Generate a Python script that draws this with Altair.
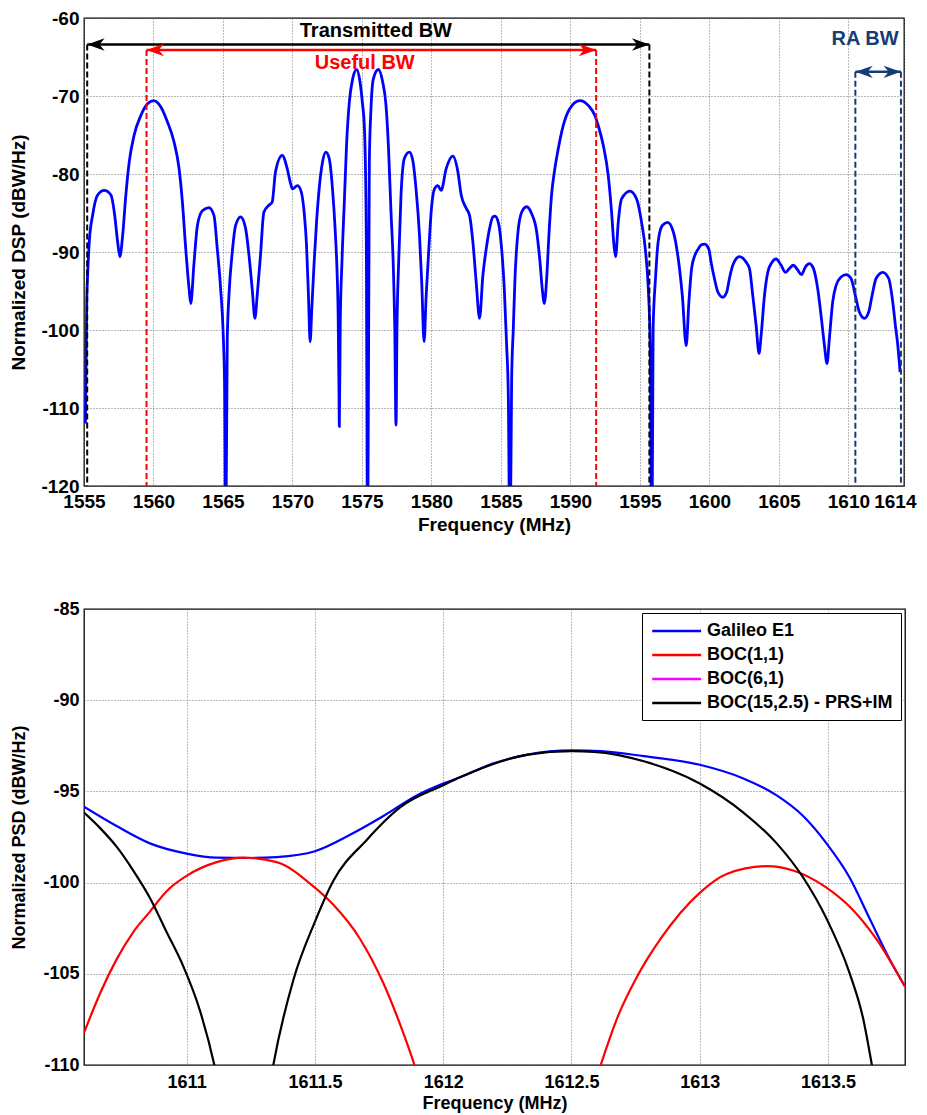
import altair as alt
import pandas as pd

FONT = "Liberation Sans"

# ---------------- top panel: Galileo E1 spectrum ----------------
top_freq = [
    1555.10, 1555.20, 1555.26, 1555.38, 1555.62, 1555.98, 1556.46, 1556.94, 1557.18, 1557.42,
    1557.58, 1557.78, 1558.01, 1558.25, 1558.61, 1559.09, 1559.57, 1560.00, 1560.53, 1561.00,
    1561.48, 1561.84, 1562.08, 1562.32, 1562.56, 1562.68, 1562.92, 1563.16, 1563.52, 1563.99,
    1564.35, 1564.59, 1564.83, 1565.02, 1565.12, 1565.19, 1565.31, 1565.43, 1565.67, 1565.91,
    1566.27, 1566.63, 1566.87, 1567.10, 1567.30, 1567.46, 1567.70, 1567.94, 1568.30, 1568.54,
    1568.78, 1569.26, 1569.62, 1569.86,
    1570.00, 1570.36, 1570.60, 1570.84, 1571.01, 1571.15, 1571.27, 1571.39, 1571.56, 1571.73,
    1571.92, 1572.16, 1572.40, 1572.64, 1572.88, 1573.08, 1573.20, 1573.29, 1573.35, 1573.37,
    1573.44, 1573.56, 1573.73, 1573.89, 1574.09, 1574.33, 1574.62, 1574.86, 1575.05, 1575.17,
    1575.24, 1575.31, 1575.41, 1575.53, 1575.65, 1575.82, 1576.18, 1576.49, 1576.73, 1576.90,
    1577.09, 1577.26, 1577.36, 1577.45, 1577.52, 1577.64, 1577.81, 1578.05, 1578.41, 1578.65,
    1578.89, 1579.14, 1579.30, 1579.47, 1579.62, 1579.81, 1580.00, 1580.22, 1580.46, 1580.70,
    1581.06, 1581.54, 1581.90, 1582.14, 1582.50, 1582.74, 1582.98, 1583.22, 1583.46, 1583.70,
    1583.94, 1584.18, 1584.42,
    1584.57, 1584.81, 1585.05, 1585.24, 1585.41, 1585.53, 1585.65, 1585.77, 1585.89, 1586.01,
    1586.20, 1586.49, 1586.85, 1587.21, 1587.57, 1587.81, 1587.97, 1588.12, 1588.29, 1588.45,
    1588.64, 1588.88, 1589.12, 1589.48, 1589.96, 1590.68, 1591.28, 1591.76, 1592.00, 1592.36,
    1592.72, 1592.96, 1593.13, 1593.25, 1593.44, 1593.68, 1594.28, 1594.76, 1595.12, 1595.41,
    1595.60, 1595.74, 1595.86, 1595.95, 1596.12, 1596.31, 1596.61, 1596.99, 1597.40, 1597.76,
    1598.05, 1598.33, 1598.52, 1598.72, 1598.96, 1599.20,
    1599.40, 1599.64, 1599.95, 1600.12, 1600.36, 1600.60, 1600.96, 1601.25, 1601.44, 1601.68,
    1602.16, 1602.64, 1602.88, 1603.12, 1603.36, 1603.57, 1603.72, 1603.96, 1604.20, 1604.51,
    1604.80, 1605.16, 1605.47, 1605.76, 1606.04, 1606.35, 1606.62, 1606.91, 1607.19, 1607.48,
    1607.79, 1608.03, 1608.27, 1608.46, 1608.63, 1608.87, 1609.11, 1609.47, 1609.83, 1610.19,
    1610.50, 1610.79, 1611.15, 1611.46, 1611.70, 1611.99, 1612.47, 1612.90, 1613.19, 1613.38,
    1613.55, 1613.72,
]
top_db = [
    -112.0, -96.0, -93.0, -88.7, -85.3, -82.7, -82.1, -82.7, -84.9, -88.7,
    -90.6, -87.9, -82.7, -78.5, -75.0, -72.5, -71.0, -70.6, -71.4, -73.3,
    -75.9, -79.3, -83.6, -89.6, -94.7, -96.6, -91.3, -86.6, -84.7, -84.3,
    -85.3, -89.6, -94.7, -100.7, -107.5, -130.0, -101.0, -95.6, -90.0, -86.6,
    -85.5, -87.0, -90.4, -94.7, -98.5, -95.6, -90.4, -84.9, -84.0, -83.6,
    -79.7, -77.6, -79.3, -81.2,
    -81.9, -81.5, -82.1, -84.9, -89.1, -95.6, -101.5, -97.3, -91.3, -86.2,
    -81.9, -78.5, -77.2, -78.0, -81.9, -87.4, -92.1, -98.5, -108.4, -112.4,
    -99.0, -91.3, -83.6, -76.3, -70.8, -67.8, -66.6, -68.2, -71.2, -73.8,
    -78.0, -87.9, -130.0, -78.5, -71.6, -67.8, -66.6, -68.2, -71.2, -76.3,
    -84.9, -92.1, -99.8, -112.2, -99.8, -91.3, -82.7, -78.0, -77.2, -78.2,
    -81.9, -87.9, -93.9, -101.5, -95.6, -89.6, -84.4, -81.9, -81.5, -82.1,
    -79.3, -77.7, -79.7, -82.7, -84.4, -85.3, -88.7, -93.9, -98.5, -93.0,
    -89.6, -87.0, -85.5,
    -85.4, -86.2, -89.6, -94.7, -102.0, -108.4, -130.0, -106.2, -99.8, -93.4,
    -87.9, -84.9, -84.2, -85.1, -87.4, -91.3, -94.7, -96.6, -93.4, -87.9,
    -82.7, -79.3, -76.8, -73.8, -71.6, -70.6, -71.2, -72.5, -73.8, -76.3,
    -80.2, -84.9, -89.1, -90.6, -86.2, -83.2, -82.2, -83.2, -86.2, -90.0,
    -94.7, -102.0, -130.0, -99.8, -93.4, -88.7, -86.6, -86.2, -87.4, -90.9,
    -95.6, -102.0, -96.5, -92.1, -90.4, -89.6,
    -89.1, -89.0, -89.6, -91.3, -93.4, -95.1, -95.8, -95.1, -93.4, -91.7,
    -90.6, -91.3, -92.1, -95.6, -99.4, -103.0, -100.7, -95.6, -92.6, -91.3,
    -90.9, -91.7, -92.6, -92.1, -91.7, -92.3, -92.9, -91.9, -91.5, -92.1,
    -94.7, -98.1, -101.9, -104.3, -101.1, -96.4, -94.3, -93.2, -92.9, -93.4,
    -95.6, -97.7, -98.5, -97.7, -95.6, -93.4, -92.6, -93.4, -96.4, -99.4,
    -101.9, -105.4,
]
top_xticks = [1555, 1560, 1565, 1570, 1575, 1580, 1585, 1590, 1595, 1600, 1605, 1610, 1614]
top_yticks = [-60, -70, -80, -90, -100, -110, -120]

# bandwidth annotations
bw_name = ["Transmitted BW", "Useful BW", "RA BW"]
bw_lo = [1555.23, 1559.5, 1610.5]
bw_hi = [1595.68, 1591.85, 1613.78]
bw_level = [-63.4, -64.1, -66.9]
bw_color = ["#000000", "#FF0000", "#173C74"]
bw_label_f = [1576.0, 1575.2, 1611.2]
bw_label_db = [-61.7, -65.8, -62.7]

# ---------------- bottom panel: zoom on RA band ----------------
low_series = ["Galileo E1", "BOC(1,1)", "BOC(6,1)", "BOC(15,2.5) - PRS+IM"]
low_colors = ["#0000FF", "#FF0000", "#FF00FF", "#000000"]

e1_freq = [1610.6, 1610.727, 1610.857, 1611.0, 1611.117, 1611.247, 1611.351, 1611.5, 1611.637,
           1611.767, 1611.897, 1612.0, 1612.07, 1612.2, 1612.33, 1612.5, 1612.614, 1612.782,
           1613.0, 1613.17, 1613.3, 1613.403, 1613.494, 1613.584, 1613.662, 1613.74, 1613.8]
e1_db = [-95.84, -96.9, -97.85, -98.41, -98.63, -98.65, -98.6, -98.28, -97.38,
         -96.35, -95.22, -94.57, -94.2, -93.45, -92.98, -92.75, -92.79, -93.07,
         -93.54, -94.29, -95.22, -96.35, -97.85, -99.72, -101.97, -104.2, -105.7]

boc11_freq = [1610.6, 1610.662, 1610.727, 1610.792, 1610.857, 1610.922, 1611.0, 1611.117, 1611.221,
              1611.351, 1611.5, 1611.572, 1611.676, 1611.767, 1611.832, 1611.888, 1611.92,
              1612.58, 1612.614, 1612.679, 1612.756, 1612.847, 1613.0, 1613.105, 1613.261,
              1613.364, 1613.494, 1613.597, 1613.688, 1613.8]
boc11_db = [-108.24, -106.09, -104.21, -102.71, -101.59, -100.47, -99.63, -98.88, -98.63,
            -98.88, -100.28, -101.22, -103.09, -105.52, -107.77, -110.0, -111.5,
            -111.5, -110.0, -107.4, -105.15, -103.09, -100.56, -99.53, -99.1,
            -99.34, -100.28, -101.5, -103.09, -105.71]

boc152_freq = [1610.6, 1610.662, 1610.727, 1610.792, 1610.857, 1610.922, 1610.987, 1611.052, 1611.108,
               1611.13, 1611.32, 1611.338, 1611.416, 1611.5, 1611.572, 1611.702, 1611.832, 1612.0,
               1612.07, 1612.33, 1612.5, 1612.588, 1612.782, 1613.0, 1613.17, 1613.3, 1613.403,
               1613.494, 1613.584, 1613.636, 1613.671, 1613.69]
boc152_db = [-96.16, -97.0, -98.03, -99.34, -100.84, -102.71, -104.59, -107.02, -110.0,
             -111.5, -111.5, -110.0, -105.34, -102.15, -99.9, -97.66, -95.88, -94.66,
             -94.2, -92.98, -92.79, -92.83, -93.35, -94.57, -96.16, -97.85, -99.72,
             -101.97, -104.96, -107.4, -110.0, -111.5]

low_xticks = [1611, 1611.5, 1612, 1612.5, 1613, 1613.5]
low_yticks = [-85, -90, -95, -100, -105, -110]

# ---------------- data tables ----------------
top_df = pd.DataFrame({"f": top_freq, "db": top_db})
vert_df = pd.DataFrame({
    "f": bw_lo + bw_hi,
    "db": bw_level + bw_level,
    "c": bw_color + bw_color,
})
horiz_df = pd.DataFrame({"f": bw_lo, "hi": bw_hi, "db": bw_level, "c": bw_color})
left_df = pd.DataFrame({"f": bw_lo, "db": bw_level, "c": bw_color})
right_df = pd.DataFrame({"f": bw_hi, "db": bw_level, "c": bw_color})
label_df = pd.DataFrame({"f": bw_label_f, "db": bw_label_db, "c": bw_color, "t": bw_name})

low_df = pd.concat([
    pd.DataFrame({"f": e1_freq, "db": e1_db, "s": low_series[0]}),
    pd.DataFrame({"f": boc11_freq, "db": boc11_db, "s": low_series[1]}),
    pd.DataFrame({"f": boc152_freq, "db": boc152_db, "s": low_series[3]}),
], ignore_index=True)
low_df["o"] = range(len(low_df))


def axis(values, title, size, y=False, lpad=6, tpad=4, **extra):
    kw = dict(
        values=values, title=title, labelExpr="'' + datum.value",
        labelFont=FONT, labelFontSize=size, labelFontWeight="bold", labelColor="black",
        titleFont=FONT, titleFontSize=size, titleFontWeight="bold", titleColor="black",
        grid=True, gridColor="#666666", gridDash=[1, 2], gridWidth=1, gridOpacity=0.9,
        ticks=False, domain=False, labelPadding=lpad, titlePadding=tpad,
        labelOverlap=False, labelFlush=False,
    )
    if y:
        kw.update(minExtent=46, maxExtent=46)
    kw.update(extra)
    return alt.Axis(**kw)


# ---------------- top chart ----------------
TS = 19
xs_top = alt.Scale(domain=[1555, 1614], nice=False, zero=False)
ys_top = alt.Scale(domain=[-120, -60], nice=False, zero=False)
ax_top_x = axis(
    top_xticks, "Frequency (MHz)", TS, lpad=6, tpad=4,
    labelAlign=alt.condition("datum.value >= 1614", alt.value("right"), alt.value("center")),
    labelOffset=alt.condition("datum.value >= 1614", alt.value(12), alt.value(0)),
)
ax_top_y = axis(top_yticks, "Normalized DSP (dBW/Hz)", TS, y=True, lpad=5, tpad=10)


def XT():
    return alt.X("f:Q", scale=xs_top, axis=ax_top_x)


def YT():
    return alt.Y("db:Q", scale=ys_top, axis=ax_top_y)


blue = alt.Chart(top_df).mark_line(color="#0000FF", strokeWidth=2.8, clip=True,
                                   strokeJoin="round", interpolate="monotone").encode(x=XT(), y=YT())
vlines = alt.Chart(vert_df).mark_rule(strokeDash=[6, 3], strokeWidth=2).encode(
    x=XT(), y=YT(), y2=alt.datum(-120), color=alt.Color("c:N", scale=None))
hlines = alt.Chart(horiz_df).mark_rule(strokeWidth=2.5).encode(
    x=XT(), x2="hi:Q", y=YT(), color=alt.Color("c:N", scale=None))
LEFT_HEAD = "M0,0L1.7,-0.6L1.2,0L1.7,0.6Z"
RIGHT_HEAD = "M0,0L-1.7,-0.6L-1.2,0L-1.7,0.6Z"
lheads = alt.Chart(left_df).mark_point(shape=LEFT_HEAD, filled=True, size=420, opacity=1,
                                       strokeWidth=0).encode(
    x=XT(), y=YT(), color=alt.Color("c:N", scale=None))
rheads = alt.Chart(right_df).mark_point(shape=RIGHT_HEAD, filled=True, size=420, opacity=1,
                                        strokeWidth=0).encode(
    x=XT(), y=YT(), color=alt.Color("c:N", scale=None))
labels = alt.Chart(label_df).mark_text(font=FONT, fontSize=20, fontWeight="bold",
                                       align="center", baseline="middle").encode(
    x=XT(), y=YT(), text="t:N", color=alt.Color("c:N", scale=None))

top = alt.layer(blue, vlines, hlines, lheads, rheads, labels).properties(width=820, height=468)

# ---------------- bottom chart ----------------
BS = 18
xs_low = alt.Scale(domain=[1610.6, 1613.8], nice=False, zero=False)
ys_low = alt.Scale(domain=[-110, -85], nice=False, zero=False)
ax_low_x = axis(low_xticks, "Frequency (MHz)", BS, lpad=8, tpad=3)
ax_low_y = axis(low_yticks, "Normalized PSD (dBW/Hz)", BS, y=True, lpad=5, tpad=10)

bottom = alt.Chart(low_df).mark_line(strokeWidth=2.2, clip=True, interpolate="monotone").encode(
    x=alt.X("f:Q", scale=xs_low, axis=ax_low_x),
    y=alt.Y("db:Q", scale=ys_low, axis=ax_low_y),
    color=alt.Color("s:N", scale=alt.Scale(domain=low_series, range=low_colors),
                    legend=alt.Legend(
                        title=None, orient="top-right", offset=4, padding=8,
                        strokeColor="black", fillColor="white", cornerRadius=0,
                        symbolType="M-0.9,0H4.75", symbolSize=300, symbolStrokeWidth=2.5,
                        labelFont=FONT, labelFontSize=18, labelFontWeight="bold",
                        labelColor="black", labelOffset=37, rowPadding=5, labelLimit=400)),
    order=alt.Order("o:Q"),
).properties(width=821, height=456)

chart = alt.vconcat(top, bottom, spacing=64).properties(
    padding={"left": 0, "top": 0, "right": 0, "bottom": 0}
).resolve_scale(color="independent").resolve_legend(color="independent").configure_view(
    stroke="black", strokeWidth=1.3)

chart.save("out.html", embed_options={"renderer": "svg", "actions": False})
